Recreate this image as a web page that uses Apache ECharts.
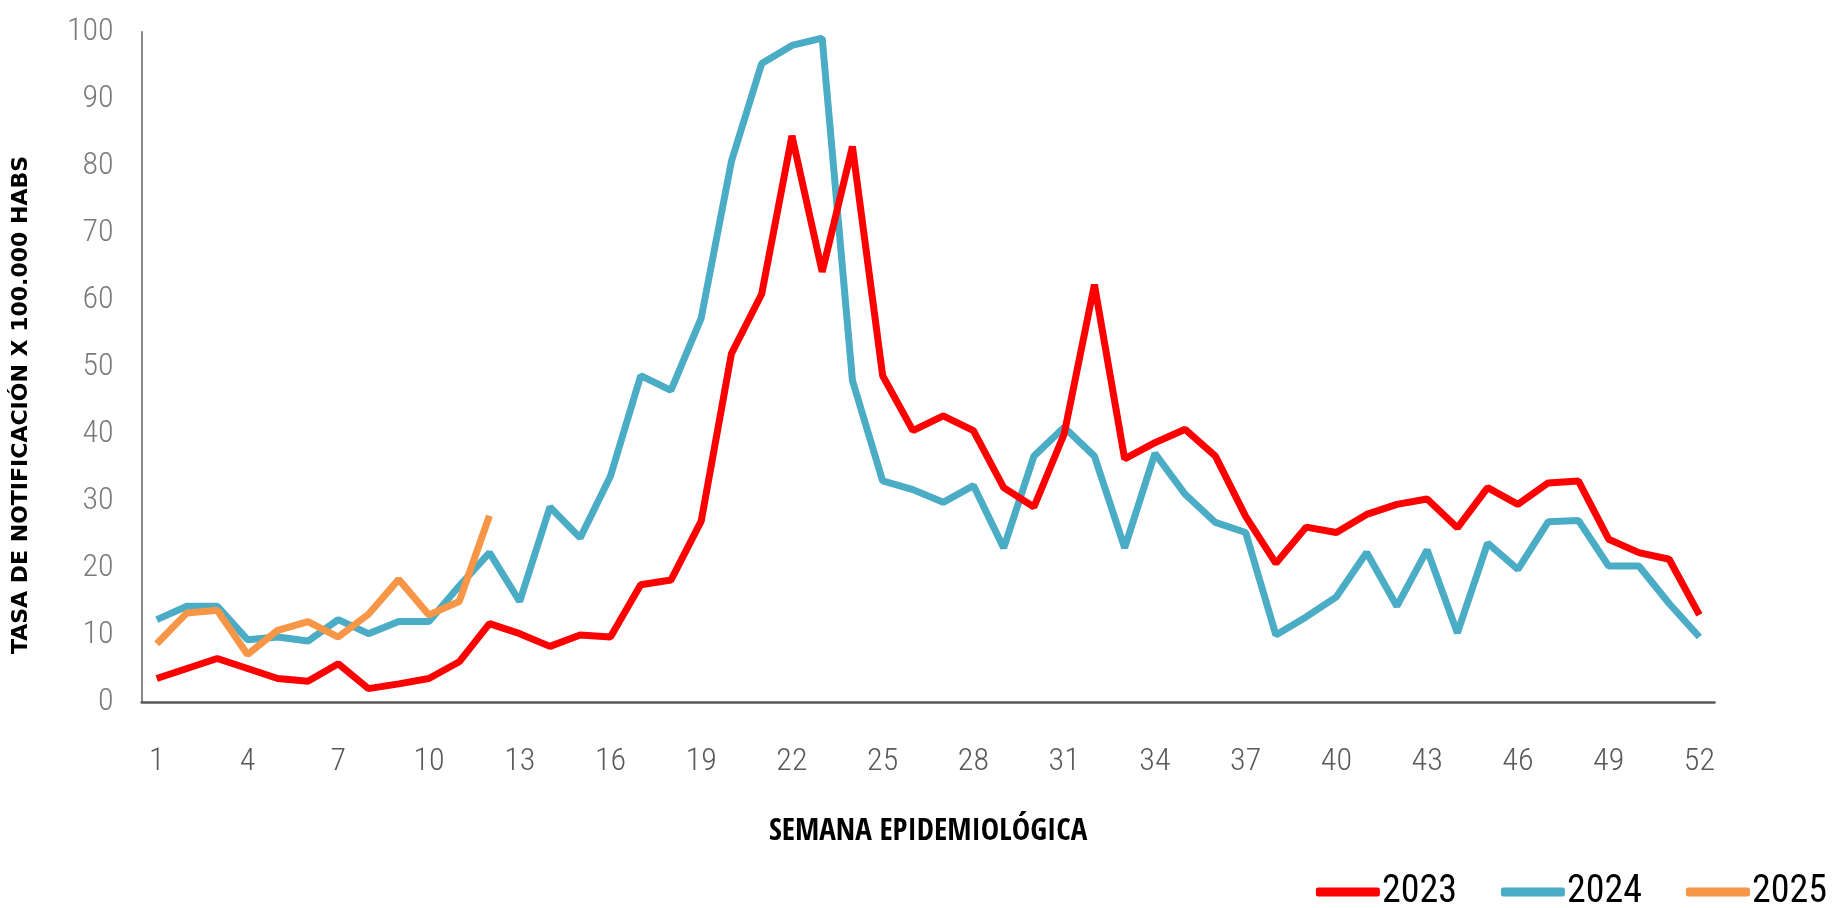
<!DOCTYPE html>
<html>
<head>
<meta charset="utf-8">
<script src="https://cdn.jsdelivr.net/npm/echarts@6/dist/echarts.min.js"></script>
<style>html,body{margin:0;padding:0;background:#fff;}#chart{width:1835px;height:908px;}</style>
</head>
<body>
<div id="chart"></div>
<script>
const weeks = Array.from({length: 52}, (_, i) => String(i + 1));
const s2023 = [3.5,5.0,6.5,5.0,3.5,3.1,5.7,2.0,2.7,3.5,6.0,11.7,10.2,8.3,10.0,9.7,17.5,18.2,27,52,60.9,84.5,64.2,82.9,48.7,40.5,42.7,40.5,32,29.1,40,62.3,36.3,38.7,40.7,36.7,27.7,20.7,26.1,25.3,28,29.5,30.3,26,32,29.5,32.7,33,24.3,22.3,21.3,13];
const s2024 = [12.3,14.3,14.3,9.3,9.7,9.1,12.3,10.2,12,12,17.3,22.3,15.0,29.1,24.5,33.7,48.7,46.5,57.3,80.7,95.3,98,99.1,48,33,31.7,29.8,32.3,23,36.7,41,36.7,23,37.1,31,26.8,25.3,10,12.7,15.7,22.3,14.3,22.7,10.3,23.7,19.8,26.9,27.1,20.3,20.3,14.7,9.7];
const s2025 = [8.7,13.3,13.7,7.1,10.7,12,9.7,13.1,18.3,13,15,27.8];
const seriesNames = ['2023', '2024', '2025'];
const yTicks = {min: 0, max: 100, interval: 10};

const COND = "'Roboto Condensed', 'Open Sans', sans-serif";
const COND_BOLD = "'Open Sans Condensed', 'Roboto Condensed', sans-serif";
const colors = {'2023': '#FF0000', '2024': '#4BACC6', '2025': '#F79646'};

const chart = echarts.init(document.getElementById('chart'));
chart.setOption({
  animation: false,
  backgroundColor: '#fff',
  grid: {left: 141.6, right: 120.5, top: 32, bottom: 206, containLabel: false},
  xAxis: {
    type: 'category', data: weeks, boundaryGap: true,
    axisLine: {lineStyle: {color: '#595959', width: 2.5}},
    axisTick: {show: false},
    axisLabel: {interval: 2, color: '#595959', fontFamily: COND, fontWeight: 300, fontSize: 32, margin: 44},
    name: 'SEMANA EPIDEMIOLÓGICA', nameLocation: 'middle', nameGap: 114,
    nameTextStyle: {color: '#000', fontFamily: COND_BOLD, fontWeight: 'bold', fontSize: 31}
  },
  yAxis: {
    type: 'value', min: yTicks.min, max: yTicks.max, interval: yTicks.interval,
    axisLine: {show: true, lineStyle: {color: '#868686', width: 2}},
    axisTick: {show: false},
    splitLine: {show: false},
    axisLabel: {color: '#7a7a7a', fontFamily: COND, fontWeight: 300, fontSize: 32, margin: 28},
    name: 'TASA DE NOTIFICACIÓN X 100.000 HABS', nameLocation: 'middle', nameGap: 109,
    nameTextStyle: {color: '#000', fontFamily: "'DejaVu Sans', sans-serif", fontWeight: 'bold', fontSize: 22, padding: [0, 76, 0, 0]}
  },
  legend: {
    data: seriesNames, right: 3, top: 868, itemGap: 44, itemWidth: 64, itemHeight: 9,
    icon: 'roundRect',
    textStyle: {color: '#000', fontFamily: COND, fontSize: 38, padding: [0, 0, 0, -3]}
  },
  series: [
    {name: '2024', type: 'line', data: s2024, showSymbol: false, symbol: 'none', lineStyle: {width: 7, color: colors['2024']}, itemStyle: {color: colors['2024']}},
    {name: '2023', type: 'line', data: s2023, showSymbol: false, symbol: 'none', lineStyle: {width: 7, color: colors['2023']}, itemStyle: {color: colors['2023']}},
    {name: '2025', type: 'line', data: s2025, showSymbol: false, symbol: 'none', lineStyle: {width: 7, color: colors['2025']}, itemStyle: {color: colors['2025']}}
  ]
});
</script>
</body>
</html>
